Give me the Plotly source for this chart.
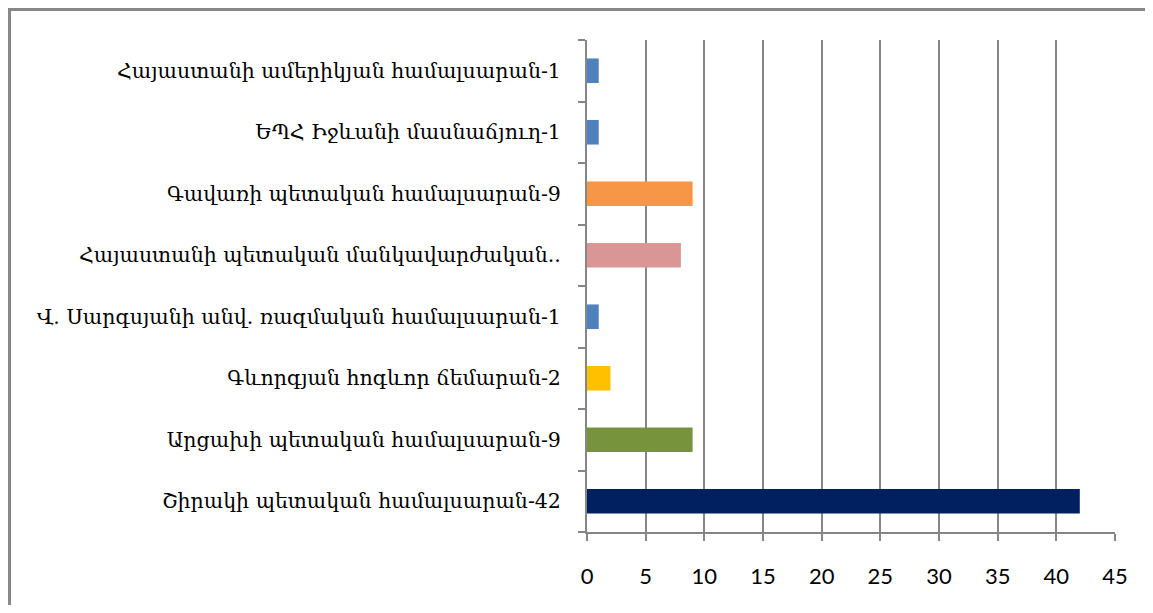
import plotly.graph_objects as go

categories = [
    "Շիրակի պետական համալսարան-42",
    "Արցախի պետական համալսարան-9",
    "Գևորգյան հոգևոր ճեմարան-2",
    "Վ. Սարգսյանի անվ. ռազմական համալսարան-1",
    "Հայաստանի պետական մանկավարժական..",
    "Գավառի պետական համալսարան-9",
    "ԵՊՀ Իջևանի մասնաճյուղ-1",
    "Հայաստանի ամերիկյան համալսարան-1",
]
values = [42, 9, 2, 1, 8, 9, 1, 1]
colors = ["#002060", "#77933C", "#FFC000", "#4F81BD", "#D99694", "#F79646", "#4F81BD", "#4F81BD"]
x_ticks = [0, 5, 10, 15, 20, 25, 30, 35, 40, 45]

OFF = 8  # page body margin
W, H = 1153 - 2 * OFF, 613 - 2 * OFF
L, R, T, B = 587 - OFF, 1115 - OFF, 40 - OFF, 532 - OFF
pw, ph = R - L, B - T

def px_x(p):
    return (p - L) / pw

def px_y(p):
    return (B - p) / ph

fig = go.Figure()
fig.add_trace(go.Bar(
    x=values, y=categories, orientation="h",
    marker=dict(color=colors, line=dict(width=0)),
    hoverinfo="x+y",
))

fig.update_layout(
    width=W, height=H,
    margin=dict(l=L, r=W - R, t=T, b=H - B),
    paper_bgcolor="white", plot_bgcolor="white",
    showlegend=False,
    bargap=0.6,
    xaxis=dict(
        range=[0, 45], tickvals=x_ticks, ticktext=[str(v) for v in x_ticks],
        showgrid=True, gridcolor="#868686", gridwidth=2,
        showline=True, linecolor="#868686", linewidth=2,
        ticks="outside", ticklen=7, tickcolor="#868686", tickwidth=2,
        tickfont=dict(family="Lato", size=22, color="black"),
        ticklabelstandoff=17,
        zeroline=False, fixedrange=True,
    ),
    yaxis=dict(
        type="category",
        showgrid=False,
        showline=True, linecolor="#868686", linewidth=2,
        ticks="outside", ticklen=7, tickcolor="#868686", tickwidth=2,
        tickson="boundaries",
        tickfont=dict(family="DejaVu Serif", size=20.5, color="black"),
        ticklabelstandoff=20,
        fixedrange=True,
    ),
    shapes=[
        dict(type="line", xref="paper", yref="paper",
             x0=px_x(0), x1=px_x(W), y0=px_y(1.5), y1=px_y(1.5),
             line=dict(color="#888888", width=3)),
        dict(type="line", xref="paper", yref="paper",
             x0=px_x(1.5), x1=px_x(1.5), y0=px_y(0), y1=px_y(H),
             line=dict(color="#888888", width=3)),
    ],
)

fig.write_html("out.html", config={"displayModeBar": False})
